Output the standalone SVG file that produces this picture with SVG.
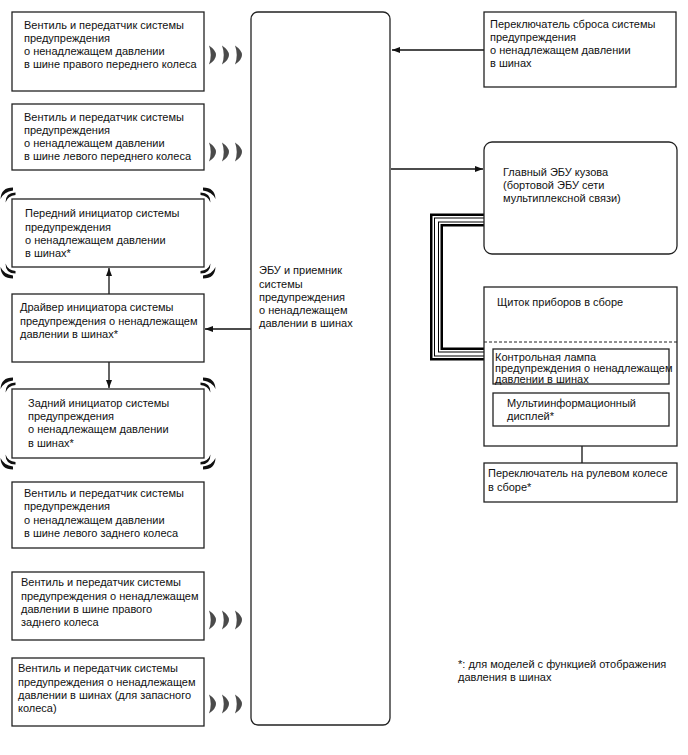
<svg xmlns="http://www.w3.org/2000/svg" width="688" height="755" viewBox="0 0 688 755">
<style>
.b{fill:#fff;stroke:#222;stroke-width:1.3}
.t{font-family:"Liberation Sans",Arial,sans-serif;font-size:11px;fill:#111}
.c{stroke:#111;stroke-width:1.3;fill:none}
.w{fill:#4a4a4a}
.k{fill:#111}
</style>
<defs>
<marker id="ah" markerUnits="userSpaceOnUse" markerWidth="9" markerHeight="7" refX="8" refY="3" orient="auto">
<path d="M0,0 L8,3 L0,6 Z" fill="#111"/>
</marker>
<path id="cr" d="M0,-9.5 Q14,0 0,9.5 Q3.5,0 0,-9.5 Z"/>
<g id="waves"><use href="#cr" x="0"/><use href="#cr" x="13"/><use href="#cr" x="26"/></g>
<g id="cn"><path d="M1,-11.5 Q-11,-11.5 -11.5,0 Q-8,-7.5 1,-8.5 Z"/><path d="M3.5,-6.5 Q-6.5,-6.5 -6.5,3.5 Q-4,-3.5 3.5,-4 Z"/></g>
</defs>
<rect width="688" height="755" fill="#fff"/>

<g id="connectors">
<line class="c" x1="484" y1="50" x2="392" y2="50" marker-end="url(#ah)"/>
<line class="c" x1="391" y1="169" x2="483" y2="169" marker-end="url(#ah)"/>
<line class="c" x1="251" y1="329" x2="205" y2="329" marker-end="url(#ah)"/>
<line class="c" x1="109" y1="294" x2="109" y2="268" marker-end="url(#ah)"/>
<line class="c" x1="109" y1="362" x2="109" y2="388" marker-end="url(#ah)"/>
<line class="c" x1="582" y1="463" x2="582" y2="427" marker-end="url(#ah)"/>
<g id="bus" fill="none" stroke-linejoin="miter">
<path d="M484,220 H436.5 V354 H484" stroke="#000" stroke-width="13"/>
<path d="M484,220 H436.5 V354 H484" stroke="#fff" stroke-width="8"/>
<path d="M484,220 H436.5 V354 H484" stroke="#000" stroke-width="5"/>
<path d="M484,220 H436.5 V354 H484" stroke="#fff" stroke-width="3"/>
</g>
</g>

<g id="ecu">
<rect class="b" x="251" y="12" width="139" height="713" rx="7"/>
<text class="t"><tspan x="259" y="274">ЭБУ и приемник</tspan><tspan x="259" y="288">системы</tspan><tspan x="259" y="301">предупреждения</tspan><tspan x="259" y="314">о ненадлежащем</tspan><tspan x="259" y="327">давлении в шинах</tspan></text>
</g>

<g id="valve-fr">
<rect class="b" x="12" y="12" width="192" height="79"/>
<text class="t"><tspan x="24" y="29">Вентиль и передатчик системы</tspan><tspan x="24" y="42">предупреждения</tspan><tspan x="24" y="55">о ненадлежащем давлении</tspan><tspan x="24" y="68">в шине правого переднего колеса</tspan></text>
<use href="#waves" x="209" y="55" class="w"/>
</g>

<g id="valve-fl">
<rect class="b" x="12" y="104" width="192" height="66"/>
<text class="t"><tspan x="24" y="121">Вентиль и передатчик системы</tspan><tspan x="24" y="134">предупреждения</tspan><tspan x="24" y="147">о ненадлежащем давлении</tspan><tspan x="24" y="160">в шине левого переднего колеса</tspan></text>
<use href="#waves" x="209" y="152" class="w"/>
</g>

<g id="init-front">
<rect class="b" x="12" y="199" width="192" height="68"/>
<text class="t"><tspan x="25" y="217">Передний инициатор системы</tspan><tspan x="25" y="231">предупреждения</tspan><tspan x="25" y="244">о ненадлежащем давлении</tspan><tspan x="25" y="257">в шинах*</tspan></text>
<g class="k">
<use href="#cn" transform="translate(12,199)"/>
<use href="#cn" transform="translate(204,199) scale(-1,1)"/>
<use href="#cn" transform="translate(12,267) scale(1,-1)"/>
<use href="#cn" transform="translate(204,267) scale(-1,-1)"/>
</g>
</g>

<g id="driver">
<rect class="b" x="12" y="294" width="192" height="68"/>
<text class="t"><tspan x="20" y="311">Драйвер инициатора системы</tspan><tspan x="20" y="325">предупреждения о ненадлежащем</tspan><tspan x="20" y="338">давлении в шинах*</tspan></text>
</g>

<g id="init-rear">
<rect class="b" x="12" y="389" width="192" height="69"/>
<text class="t"><tspan x="28" y="407">Задний инициатор системы</tspan><tspan x="28" y="420">предупреждения</tspan><tspan x="28" y="433">о ненадлежащем давлении</tspan><tspan x="28" y="447">в шинах*</tspan></text>
<g class="k">
<use href="#cn" transform="translate(12,389)"/>
<use href="#cn" transform="translate(204,389) scale(-1,1)"/>
<use href="#cn" transform="translate(12,458) scale(1,-1)"/>
<use href="#cn" transform="translate(204,458) scale(-1,-1)"/>
</g>
</g>

<g id="valve-rl">
<rect class="b" x="12" y="482" width="192" height="66"/>
<text class="t"><tspan x="24" y="497">Вентиль и передатчик системы</tspan><tspan x="24" y="510">предупреждения</tspan><tspan x="24" y="524">о ненадлежащем давлении</tspan><tspan x="24" y="537">в шине левого заднего колеса</tspan></text>
</g>

<g id="valve-rr">
<rect class="b" x="12" y="572" width="192" height="68"/>
<text class="t"><tspan x="21" y="586">Вентиль и передатчик системы</tspan><tspan x="21" y="600">предупреждения о ненадлежащем</tspan><tspan x="21" y="613">давлении в шине правого</tspan><tspan x="21" y="626">заднего колеса</tspan></text>
<use href="#waves" x="209" y="620" class="w"/>
</g>

<g id="valve-spare">
<rect class="b" x="12" y="658" width="192" height="68"/>
<text class="t"><tspan x="18" y="672">Вентиль и передатчик системы</tspan><tspan x="18" y="686">предупреждения о ненадлежащем</tspan><tspan x="18" y="699">давлении в шинах (для запасного</tspan><tspan x="18" y="712">колеса)</tspan></text>
<use href="#waves" x="209" y="704" class="w"/>
</g>

<g id="reset-switch">
<rect class="b" x="484" y="12" width="192" height="75"/>
<text class="t"><tspan x="490" y="28">Переключатель сброса системы</tspan><tspan x="490" y="41">предупреждения</tspan><tspan x="490" y="54">о ненадлежащем давлении</tspan><tspan x="490" y="67">в шинах</tspan></text>
</g>

<g id="body-ecu">
<rect class="b" x="484" y="142" width="193" height="112" rx="8"/>
<text class="t"><tspan x="503" y="176">Главный ЭБУ кузова</tspan><tspan x="503" y="189">(бортовой ЭБУ сети</tspan><tspan x="503" y="202">мультиплексной связи)</tspan></text>
</g>

<g id="combination-meter">
<rect class="b" x="484" y="287" width="193" height="159"/>
<line x1="484" y1="342" x2="677" y2="342" stroke="#222" stroke-width="1" stroke-dasharray="3,2"/>
<text class="t" x="497" y="306">Щиток приборов в сборе</text>
</g>

<g id="warning-lamp">
<rect class="b" x="493" y="349" width="176" height="35"/>
<text class="t"><tspan x="495" y="361">Контрольная лампа</tspan><tspan x="495" y="372">предупреждения о ненадлежащем</tspan><tspan x="495" y="383">давлении в шинах</tspan></text>
</g>

<g id="multi-display">
<rect class="b" x="493" y="393" width="176" height="33"/>
<text class="t"><tspan x="507" y="407">Мультиинформационный</tspan><tspan x="507" y="420">дисплей*</tspan></text>
</g>

<g id="steering-switch">
<rect class="b" x="484" y="463" width="193" height="39"/>
<text class="t"><tspan x="488" y="477">Переключатель на рулевом колесе</tspan><tspan x="488" y="491">в сборе*</tspan></text>
</g>

<g id="footnote">
<text class="t"><tspan x="458" y="668">*: для моделей с функцией отображения</tspan><tspan x="458" y="681">давления в шинах</tspan></text>
</g>
</svg>
